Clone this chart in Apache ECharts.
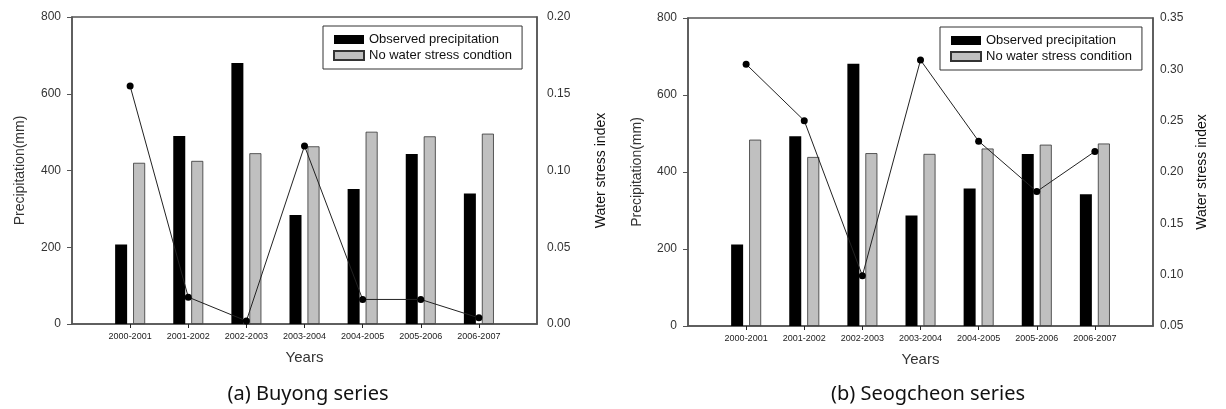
<!DOCTYPE html>
<html>
<head>
<meta charset="utf-8">
<script src="https://cdn.jsdelivr.net/npm/echarts@6/dist/echarts.min.js"></script>
<style>
html,body{margin:0;padding:0;background:#fff;}
#main{width:1226px;height:409px;}
</style>
</head>
<body>
<div id="main"></div>
<script>
// ---------- data ----------
const categories = ['2000-2001','2001-2002','2002-2003','2003-2004','2004-2005','2005-2006','2006-2007'];

// (a) Buyong series
const buyongObserved = [207, 490, 680, 284, 352, 443, 340];
const buyongNoStress = [420, 425, 445, 463, 501, 489, 496];
const buyongWSI      = [0.155, 0.0175, 0.002, 0.116, 0.016, 0.016, 0.004];

// (b) Seogcheon series
const seogObserved = [212, 493, 681, 287, 357, 447, 342];
const seogNoStress = [484, 439, 449, 447, 461, 471, 474];
const seogWSI      = [0.305, 0.250, 0.099, 0.309, 0.230, 0.181, 0.220];

const precipTicks = [0, 200, 400, 600, 800];
const wsiTicksA = [0, 0.05, 0.10, 0.15, 0.20];
const wsiTicksB = [0.05, 0.10, 0.15, 0.20, 0.25, 0.30, 0.35];

// ---------- helpers ----------
const pos = categories.map((c, i) => i + 1);
const pairs = (arr) => arr.map((v, i) => [pos[i], v]);
const FONT = '"Liberation Sans", Arial, sans-serif';
const AXC = '#555';

function xAxisCfg(gridIndex) {
  return {
    type: 'value', gridIndex, min: 0, max: categories.length + 1, interval: 1,
    name: 'Years', nameLocation: 'middle', nameGap: 26,
    nameTextStyle: { fontFamily: FONT, fontSize: 15, color: '#333' },
    axisLine: { show: true, lineStyle: { color: AXC, width: 1.5 } },
    axisTick: { show: true, length: 4, inside: false, customValues: pos, lineStyle: { color: '#222' } },
    axisLabel: {
      customValues: pos, margin: 8, fontFamily: FONT, fontSize: 9, color: '#222',
      formatter: (v) => categories[Math.round(v) - 1] || ''
    },
    splitLine: { show: false }
  };
}

function yLeft(gridIndex, nameGap) {
  return {
    type: 'value', gridIndex, position: 'left', min: 0, max: 800, interval: 200,
    name: 'Precipitation(mm)', nameLocation: 'middle', nameGap, nameRotate: 90,
    nameTextStyle: { fontFamily: FONT, fontSize: 14, color: '#333' },
    axisLine: { show: true, lineStyle: { color: AXC, width: 1.5 } },
    axisTick: { show: true, length: 5, lineStyle: { color: AXC } },
    axisLabel: { margin: 11, fontFamily: FONT, fontSize: 12, color: '#333',
                 customValues: precipTicks },
    splitLine: { show: false }
  };
}

function yRight(gridIndex, ticks, nameGap, labelMargin) {
  return {
    type: 'value', gridIndex, position: 'right',
    min: ticks[0], max: ticks[ticks.length - 1], interval: 0.05,
    name: 'Water stress index', nameLocation: 'middle', nameGap, nameRotate: 90,
    nameTextStyle: { fontFamily: FONT, fontSize: 14, color: '#111' },
    axisLine: { show: true, lineStyle: { color: AXC, width: 1.5 } },
    axisTick: { show: false },
    axisLabel: { margin: labelMargin, fontFamily: FONT, fontSize: 12, color: '#333',
                 customValues: ticks, formatter: (v) => v.toFixed(2) },
    splitLine: { show: false }
  };
}

function barSeries(name, data, xi, yi, color, border) {
  return {
    type: 'bar', name, xAxisIndex: xi, yAxisIndex: yi, data: pairs(data),
    barWidth: 12, barGap: '50%',
    itemStyle: { color, borderColor: border, borderWidth: border ? 0.8 : 0 },
    emphasis: { disabled: true }, z: 2
  };
}

function lineSeries(name, data, xi, yi) {
  return {
    type: 'line', name, xAxisIndex: xi, yAxisIndex: yi, data: pairs(data),
    symbol: 'circle', symbolSize: 7, showSymbol: true,
    itemStyle: { color: '#000' },
    lineStyle: { color: '#222', width: 1 },
    emphasis: { disabled: true }, z: 5
  };
}

function legendCfg(left, top, names) {
  return {
    left, top, orient: 'vertical', data: names.map(n => ({ name: n, icon: 'rect' })),
    itemWidth: 30, itemHeight: 9, itemGap: 3,
    padding: [7, 10, 7, 10],
    borderColor: '#333', borderWidth: 1, backgroundColor: '#fff',
    textStyle: { fontFamily: FONT, fontSize: 13, color: '#111' },
    selectedMode: false
  };
}

const chart = echarts.init(document.getElementById('main'), null, { renderer: 'canvas' });

chart.setOption({
  animation: false,
  backgroundColor: '#fff',
  grid: [
    { left: 72, top: 17, width: 465, height: 307, show: true, borderColor: AXC, borderWidth: 1.5, containLabel: false },
    { left: 688, top: 18, width: 465, height: 308, show: true, borderColor: AXC, borderWidth: 1.5, containLabel: false }
  ],
  xAxis: [xAxisCfg(0), xAxisCfg(1)],
  yAxis: [
    yLeft(0, 45),
    yRight(0, wsiTicksA, 57, 10),
    yLeft(1, 44),
    yRight(1, wsiTicksB, 42, 7)
  ],
  legend: [
    legendCfg(323, 26, ['Observed precipitation', 'No water stress condtion']),
    legendCfg(940, 27, ['Observed precipitation', 'No water stress condition'])
  ],
  series: [
    barSeries('Observed precipitation', buyongObserved, 0, 0, '#000', null),
    barSeries('No water stress condtion', buyongNoStress, 0, 0, '#c0c0c0', '#333'),
    lineSeries('WSI (a)', buyongWSI, 0, 1),
    barSeries('Observed precipitation', seogObserved, 1, 2, '#000', null),
    barSeries('No water stress condition', seogNoStress, 1, 2, '#c0c0c0', '#333'),
    lineSeries('WSI (b)', seogWSI, 1, 3)
  ],
  graphic: [
    { type: 'text', x: 308, y: 394, style: { text: '(a) Buyong series', font: '20px "Noto Sans", sans-serif', fill: '#111', textAlign: 'center', textVerticalAlign: 'middle' } },
    { type: 'text', x: 928, y: 394, style: { text: '(b) Seogcheon series', font: '20px "Noto Sans", sans-serif', fill: '#111', textAlign: 'center', textVerticalAlign: 'middle' } }
  ]
});
</script>
</body>
</html>
